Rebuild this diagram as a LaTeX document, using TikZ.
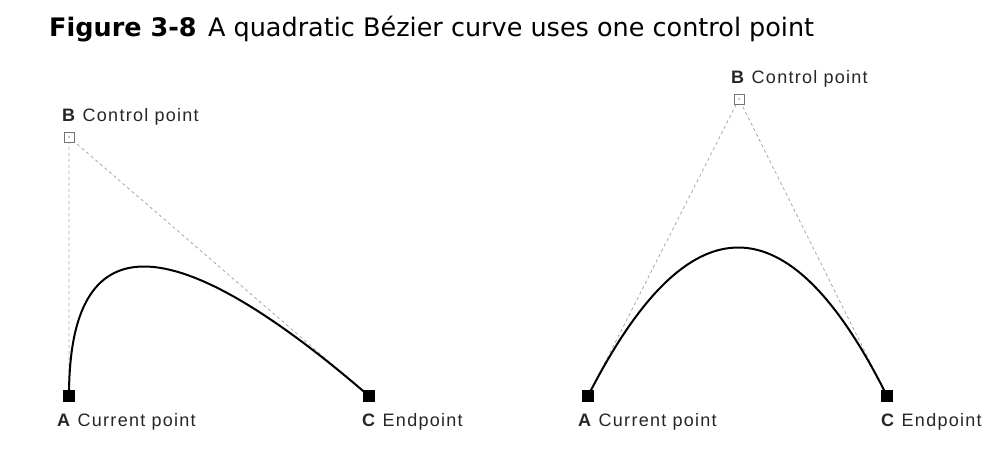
\documentclass[tikz,border=0pt]{standalone}
\usepackage{fontspec}
\setmainfont{Liberation Sans}[LetterSpace=7]
\newfontfamily\titlefont{DejaVu Sans}
\usetikzlibrary{calc}
\tikzset{
  endpt/.style={draw=black,fill=black,minimum size=11pt,inner sep=0pt,outer sep=0pt},
  ctrlpt/.style={draw=black!55,fill=white,line width=0.9pt,minimum size=10pt,inner sep=0pt,outer sep=0pt},
  guide/.style={draw=black!35,dashed,dash pattern=on 3pt off 3pt,line width=0.8pt},
  curve/.style={draw=black,line width=2pt},
  lbl/.style={anchor=base west,inner sep=0pt,font=\fontsize{18}{21}\selectfont,text=black!85},
  ttl/.style={anchor=base west,inner sep=0pt,font=\titlefont\fontsize{25.5}{30}\selectfont}
}
\begin{document}
\begin{tikzpicture}[x=1pt,y=-1pt]
\useasboundingbox (0,0) rectangle (1002,476);
\node[ttl] (title) at (49,37) {\textbf{Figure 3-8}\hspace{0.45em}A quadratic Bézier curve uses one control point};
% left
\coordinate (A1) at (69,396);
\coordinate (B1) at (69,137);
\coordinate (C1) at (369,396);
\draw[guide] (A1) -- (B1) -- (C1);
\draw[curve] (A1) .. controls ($(A1)!2/3!(B1)$) and ($(C1)!2/3!(B1)$) .. (C1);
\node[endpt] (nA1) at (A1) {};
\node[endpt] (nC1) at (C1) {};
\node[ctrlpt] (nB1) at (B1) {};
\fill[black!45] (nB1.center) circle (0.9pt);
\node[lbl] (lA1) at (57,426) {\textbf{A} Current point};
\node[lbl] (lC1) at (362,426) {\textbf{C} Endpoint};
\node[lbl] (lB1) at (62,122) {\textbf{B} Control point};
% right
\coordinate (A2) at (588,396);
\coordinate (B2) at (739,99);
\coordinate (C2) at (887,396);
\draw[guide] (A2) -- (B2) -- (C2);
\draw[curve] (A2) .. controls ($(A2)!2/3!(B2)$) and ($(C2)!2/3!(B2)$) .. (C2);
\node[endpt] (nA2) at (A2) {};
\node[endpt] (nC2) at (C2) {};
\node[ctrlpt] (nB2) at (B2) {};
\fill[black!45] (nB2.center) circle (0.9pt);
\node[lbl] (lA2) at (578,426) {\textbf{A} Current point};
\node[lbl] (lC2) at (881,426) {\textbf{C} Endpoint};
\node[lbl] (lB2) at (731,84) {\textbf{B} Control point};
\end{tikzpicture}
\end{document}
